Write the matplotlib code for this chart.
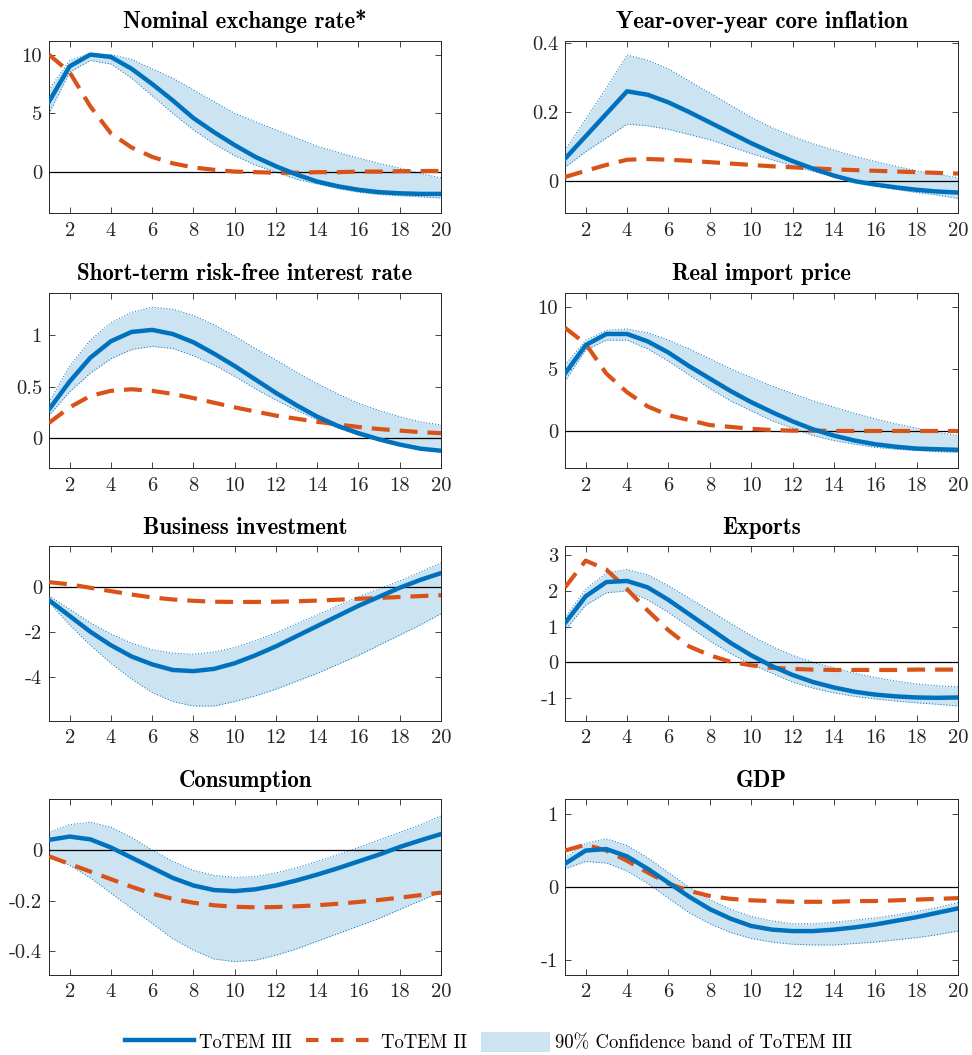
import numpy as np
import matplotlib
matplotlib.use("Agg")
import matplotlib.pyplot as plt
from matplotlib.lines import Line2D
from matplotlib.patches import Patch

plt.rcParams['font.family'] = ['cmr10', 'DejaVu Serif']
plt.rcParams['mathtext.fontset'] = 'cm'
plt.rcParams['axes.unicode_minus'] = False
plt.rcParams['axes.formatter.use_mathtext'] = False

quarters = list(range(1, 21))

titles = ["Nominal exchange rate*", "Year-over-year core inflation",
          "Short-term risk-free interest rate", "Real import price",
          "Business investment", "Exports", "Consumption", "GDP"]

# ToTEM III (solid), 90% band (hi/lo), ToTEM II (dashed)
exch_t3 = [6.0, 9.0, 10.0, 9.8, 8.8, 7.5, 6.1, 4.6, 3.4, 2.3, 1.3, 0.5, -0.2, -0.8, -1.2, -1.5, -1.7, -1.8, -1.85, -1.85]
exch_hi = [7.0, 9.5, 10.1, 10.0, 9.6, 8.8, 8.0, 7.0, 6.0, 5.0, 4.3, 3.6, 2.9, 2.2, 1.7, 1.2, 0.75, 0.35, -0.1, -0.5]
exch_lo = [5.0, 8.5, 9.5, 9.2, 8.0, 6.5, 5.0, 3.6, 2.4, 1.4, 0.6, 0.0, -0.6, -1.0, -1.4, -1.7, -1.9, -2.0, -2.1, -2.2]
exch_t2 = [10.0, 8.5, 5.6, 3.3, 2.1, 1.3, 0.75, 0.4, 0.2, 0.05, 0.0, -0.05, -0.05, 0.0, 0.0, 0.05, 0.05, 0.08, 0.1, 0.1]

infl_t3 = [0.065, 0.13, 0.195, 0.26, 0.25, 0.228, 0.2, 0.17, 0.14, 0.11, 0.083, 0.058, 0.036, 0.016, 0.0, -0.01, -0.018, -0.025, -0.03, -0.033]
infl_hi = [0.09, 0.18, 0.27, 0.365, 0.35, 0.325, 0.29, 0.255, 0.22, 0.185, 0.155, 0.13, 0.108, 0.09, 0.072, 0.057, 0.043, 0.03, 0.02, 0.01]
infl_lo = [0.04, 0.085, 0.125, 0.165, 0.16, 0.15, 0.135, 0.12, 0.1, 0.08, 0.062, 0.045, 0.028, 0.013, 0.0, -0.013, -0.024, -0.033, -0.04, -0.05]
infl_t2 = [0.012, 0.03, 0.047, 0.062, 0.064, 0.062, 0.059, 0.055, 0.051, 0.047, 0.043, 0.04, 0.037, 0.034, 0.032, 0.03, 0.028, 0.026, 0.024, 0.022]

rate_t3 = [0.28, 0.55, 0.78, 0.94, 1.03, 1.05, 1.01, 0.93, 0.82, 0.7, 0.57, 0.44, 0.32, 0.21, 0.12, 0.05, -0.01, -0.06, -0.1, -0.12]
rate_hi = [0.35, 0.7, 0.95, 1.12, 1.22, 1.27, 1.25, 1.19, 1.1, 0.99, 0.87, 0.76, 0.64, 0.53, 0.43, 0.34, 0.27, 0.21, 0.16, 0.13]
rate_lo = [0.22, 0.45, 0.63, 0.77, 0.86, 0.89, 0.87, 0.8, 0.71, 0.6, 0.48, 0.37, 0.27, 0.18, 0.1, 0.03, -0.02, -0.07, -0.1, -0.13]
rate_t2 = [0.15, 0.3, 0.41, 0.46, 0.475, 0.46, 0.43, 0.39, 0.345, 0.3, 0.26, 0.22, 0.19, 0.16, 0.135, 0.11, 0.09, 0.075, 0.06, 0.05]

imp_t3 = [4.6, 6.9, 7.8, 7.8, 7.2, 6.3, 5.2, 4.2, 3.2, 2.3, 1.5, 0.75, 0.1, -0.4, -0.8, -1.1, -1.3, -1.45, -1.5, -1.55]
imp_hi = [5.3, 7.3, 8.1, 8.2, 7.9, 7.3, 6.6, 5.8, 5.0, 4.3, 3.6, 3.0, 2.4, 1.9, 1.4, 0.95, 0.55, 0.2, -0.15, -0.4]
imp_lo = [4.0, 6.5, 7.3, 7.3, 6.6, 5.6, 4.5, 3.4, 2.4, 1.6, 0.8, 0.2, -0.4, -0.8, -1.1, -1.35, -1.5, -1.6, -1.7, -1.75]
imp_t2 = [8.3, 7.0, 4.6, 3.1, 1.95, 1.25, 0.85, 0.45, 0.3, 0.15, 0.05, 0.0, 0.0, -0.02, -0.03, -0.03, -0.03, -0.03, -0.03, -0.03]

inv_t3 = [-0.6, -1.3, -2.0, -2.6, -3.1, -3.45, -3.7, -3.75, -3.65, -3.4, -3.05, -2.65, -2.2, -1.75, -1.3, -0.85, -0.45, -0.05, 0.3, 0.6]
inv_hi = [-0.4, -1.0, -1.6, -2.1, -2.5, -2.8, -2.95, -3.0, -2.9, -2.7, -2.4, -2.05, -1.65, -1.25, -0.85, -0.45, -0.1, 0.25, 0.65, 1.05]
inv_lo = [-0.7, -1.7, -2.6, -3.4, -4.1, -4.7, -5.1, -5.3, -5.3, -5.1, -4.85, -4.55, -4.2, -3.85, -3.45, -3.05, -2.6, -2.15, -1.7, -1.2]
inv_t2 = [0.2, 0.1, -0.05, -0.2, -0.35, -0.48, -0.57, -0.63, -0.67, -0.68, -0.68, -0.67, -0.65, -0.62, -0.58, -0.54, -0.5, -0.46, -0.42, -0.38]

exp_t3 = [1.1, 1.85, 2.25, 2.28, 2.1, 1.75, 1.35, 0.95, 0.55, 0.2, -0.1, -0.35, -0.55, -0.7, -0.82, -0.9, -0.95, -0.98, -0.99, -0.98]
exp_hi = [1.25, 2.05, 2.5, 2.6, 2.45, 2.15, 1.8, 1.45, 1.1, 0.75, 0.45, 0.2, 0.0, -0.15, -0.3, -0.42, -0.52, -0.6, -0.65, -0.68]
exp_lo = [0.9, 1.6, 1.95, 2.0, 1.75, 1.4, 1.0, 0.6, 0.25, -0.05, -0.3, -0.55, -0.72, -0.85, -0.95, -1.02, -1.08, -1.13, -1.17, -1.22]
exp_t2 = [2.1, 2.85, 2.6, 2.05, 1.45, 0.9, 0.45, 0.2, 0.02, -0.08, -0.15, -0.18, -0.2, -0.21, -0.21, -0.21, -0.21, -0.2, -0.2, -0.2]

cons_t3 = [0.04, 0.053, 0.042, 0.01, -0.03, -0.07, -0.11, -0.14, -0.158, -0.162, -0.155, -0.14, -0.12, -0.097, -0.072, -0.045, -0.018, 0.012, 0.038, 0.063]
cons_hi = [0.07, 0.1, 0.11, 0.09, 0.05, 0.0, -0.045, -0.08, -0.1, -0.108, -0.105, -0.09, -0.07, -0.045, -0.018, 0.01, 0.04, 0.07, 0.1, 0.135]
cons_lo = [-0.02, -0.06, -0.11, -0.17, -0.23, -0.29, -0.35, -0.395, -0.43, -0.44, -0.435, -0.415, -0.39, -0.36, -0.33, -0.3, -0.27, -0.235, -0.2, -0.165]
cons_t2 = [-0.025, -0.055, -0.085, -0.115, -0.145, -0.172, -0.193, -0.208, -0.218, -0.224, -0.226, -0.225, -0.222, -0.218, -0.212, -0.205, -0.197, -0.188, -0.178, -0.168]

gdp_t3 = [0.32, 0.5, 0.52, 0.42, 0.25, 0.06, -0.13, -0.3, -0.43, -0.53, -0.58, -0.6, -0.6, -0.58, -0.55, -0.51, -0.46, -0.41, -0.35, -0.29]
gdp_hi = [0.4, 0.6, 0.66, 0.57, 0.4, 0.2, 0.0, -0.17, -0.3, -0.4, -0.46, -0.5, -0.5, -0.48, -0.45, -0.42, -0.38, -0.33, -0.28, -0.21]
gdp_lo = [0.25, 0.35, 0.33, 0.22, 0.05, -0.15, -0.35, -0.5, -0.62, -0.7, -0.75, -0.78, -0.79, -0.79, -0.77, -0.75, -0.72, -0.69, -0.65, -0.6]
gdp_t2 = [0.5, 0.58, 0.5, 0.36, 0.2, 0.05, -0.05, -0.12, -0.16, -0.18, -0.19, -0.2, -0.2, -0.2, -0.19, -0.19, -0.18, -0.17, -0.16, -0.15]

yticks = [[0, 5, 10], [0, 0.2, 0.4], [0, 0.5, 1], [0, 5, 10],
          [-4, -2, 0], [-1, 0, 1, 2, 3], [-0.4, -0.2, 0], [-1, 0, 1]]
ylims = [(-3.5, 11.2), (-0.093, 0.407), (-0.29, 1.41), (-3.04, 11.13),
         (-5.95, 1.79), (-1.63, 3.25), (-0.493, 0.2), (-1.2, 1.2)]

series = [(exch_t3, exch_hi, exch_lo, exch_t2), (infl_t3, infl_hi, infl_lo, infl_t2),
          (rate_t3, rate_hi, rate_lo, rate_t2), (imp_t3, imp_hi, imp_lo, imp_t2),
          (inv_t3, inv_hi, inv_lo, inv_t2), (exp_t3, exp_hi, exp_lo, exp_t2),
          (cons_t3, cons_hi, cons_lo, cons_t2), (gdp_t3, gdp_hi, gdp_lo, gdp_t2)]

BLUE = '#0072BD'
ORANGE = '#D95319'
BAND = '#CCE3F2'
AX = '#262626'
DASH = (0, (4.3, 2.4))

W, H = 972, 1055
fig = plt.figure(figsize=(W / 100, H / 100), dpi=100)

# axes boxes in pixels
cols = [(49, 441), (565, 958)]
rows = [(40.5, 213.3), (292.7, 468.3), (546.3, 720.7), (799.3, 975)]

fmt = lambda v: ('%g' % v)

for i, (t3, hi, lo, t2) in enumerate(series):
    r, c = divmod(i, 2)
    l, rr = cols[c]
    top, bot = rows[r]
    ax = fig.add_axes([l / W, 1 - bot / H, (rr - l) / W, (bot - top) / H])
    ax.fill_between(quarters, lo, hi, color=BAND, lw=0, zorder=1)
    ax.plot(quarters, hi, color=BLUE, lw=0.7, ls=(0, (1, 2)), zorder=2)
    ax.plot(quarters, lo, color=BLUE, lw=0.7, ls=(0, (1, 2)), zorder=2)
    ax.axhline(0, color='black', lw=0.9, zorder=3)
    ax.plot(quarters, t2, color=ORANGE, lw=3.0, ls=DASH, zorder=4)
    ax.plot(quarters, t3, color=BLUE, lw=3.2, zorder=5)
    ax.set_xlim(1, 20)
    ax.set_ylim(*ylims[i])
    ax.set_xticks(range(2, 21, 2))
    ax.set_yticks(yticks[i])
    ax.set_yticklabels([fmt(v) for v in yticks[i]])
    ax.tick_params(direction='in', top=True, right=True, length=4, width=0.6,
                   colors=AX, labelsize=14.8, pad=5)
    ax.tick_params(axis='x', pad=6)
    for s in ax.spines.values():
        s.set_color(AX)
        s.set_linewidth(0.7)
    ax.set_title(titles[i], fontsize=16.5, family=['cmb10', 'DejaVu Serif'],
                 color='black', pad=9)

handles = [Line2D([], [], color=BLUE, lw=3.2),
           Line2D([], [], color=ORANGE, lw=3.0, ls=(0, (3.0, 3.0))),
           Patch(facecolor=BAND, edgecolor='none')]
labels = ['ToTEM III', 'ToTEM II', '90% Confidence band of ToTEM III']
fig.legend(handles, labels, loc='center', bbox_to_anchor=(488.5 / W, 1 - 1042 / H),
           ncol=3, frameon=False, fontsize=13.5, handlelength=3.7, handleheight=1.25,
           handletextpad=0.27, columnspacing=0.75, borderpad=0.0)

fig.savefig('out.png', dpi=100)
